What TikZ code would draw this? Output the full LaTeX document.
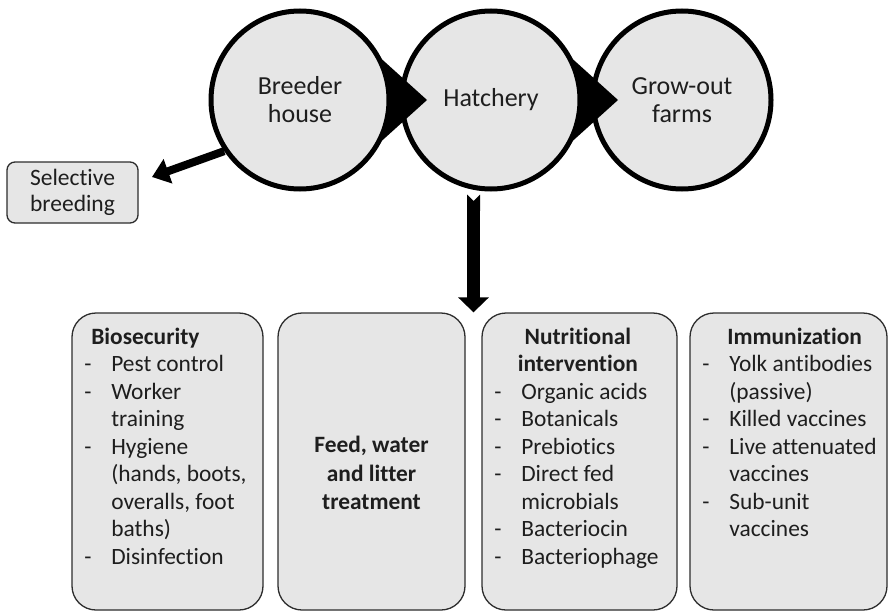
\documentclass[tikz,border=0pt]{standalone}
\usepackage{fontspec}
\setmainfont{Carlito}[Ligatures=CommonOff]
\usepackage{array}
\usepackage{xcolor}
\usetikzlibrary{positioning,arrows.meta,calc}

\begin{document}
\begin{tikzpicture}[x=1pt,y=-1pt,
  stage/.style={circle,draw=black,line width=5pt,fill=fillGray,minimum size=178pt,
    inner sep=0pt,align=center,text=textColor,font=\fontsize{26}{28}\selectfont},
  panel/.style={draw=edgeColor,line width=1.3pt,fill=fillGray,rounded corners=24pt,
    minimum height=297pt,inner sep=0pt},
  smallpanel/.style={draw=edgeColor,line width=1.3pt,fill=fillGray,rounded corners=8pt,
    minimum width=131pt,minimum height=61pt,inner sep=0pt,align=center,text=textColor,
    font=\fontsize{23.5}{26}\selectfont},
  listtext/.style={text=textColor,inner sep=0pt,outer sep=0pt,anchor=base west,
    font=\fontsize{23.4}{27.5}\selectfont},
  headtext/.style={text=textColor,inner sep=0pt,outer sep=0pt,align=center,
    font=\fontsize{23.4}{28.5}\selectfont\bfseries},
  pointer/.style={draw=black,line width=8pt,-{Triangle[length=17pt,width=25pt]}},
  drop/.style={draw=black,line width=13pt,{Triangle Cap[reversed]}-{Triangle[length=15pt,width=30pt]}},
  wedge/.style={fill=black}]
\definecolor{fillGray}{RGB}{230,230,230}
\definecolor{edgeColor}{RGB}{45,45,45}
\definecolor{textColor}{RGB}{30,30,30}
\path[use as bounding box,fill=white] (0,0) rectangle (889,613);

% chain of production stages
\coordinate (breederC) at (300,100);
\coordinate (hatchC) at (491,100);
\coordinate (growC) at (682,100);

\node[stage] (grow) at (growC) {Grow-out\\farms};
\fill[wedge] ([shift={(65,-56)}]hatchC) -- ([shift={(-64,0)}]growC) -- ([shift={(65,56)}]hatchC) -- cycle;
\node[stage] (hatch) at (hatchC) {Hatchery};
\fill[wedge] ([shift={(65,-56)}]breederC) -- ([shift={(-64,0)}]hatchC) -- ([shift={(65,56)}]breederC) -- cycle;
\node[stage] (breeder) at (breederC) {Breeder\\house};

% selective breeding
\node[smallpanel] (sel) at (72.5,192.5) {Selective\\breeding};
\coordinate (selTip) at (152,177);
\draw[pointer] (breeder.214) -- (selTip);

% control measures
\node[panel,minimum width=191pt] (bio) at (167.5,461.5) {};
\node[panel,minimum width=187pt] (feed) at (371.5,461.5) {};
\node[panel,minimum width=195pt] (nutri) at (579.5,461.5) {};
\node[panel,minimum width=197pt] (immu) at (788.5,461.5) {};

\coordinate (gap) at ($(feed.north east)!.5!(nutri.north west)$);
\coordinate (dropTop) at (hatch.south -| gap);
\draw[drop] ([yshift=-3pt]dropTop) -- (gap);

\node[listtext] (bioText) at ([shift={(13,32)}]bio.north west) {%
\begin{tabular}[t]{@{}p{27pt}@{}l@{}}
\multicolumn{2}{@{\hspace{7pt}}l@{}}{\textbf{Biosecurity}}\\
- & Pest control\\
- & Worker\\
  & training\\
- & Hygiene\\
  & (hands, boots,\\
  & overalls, foot\\
  & baths)\\
- & Disinfection
\end{tabular}};

\node[headtext] (feedText) at ($(feed.center)+(0,11.5)$) {Feed, water\\and litter\\treatment};

\node[listtext] (nutriText) at ([shift={(13,32)}]nutri.north west) {%
\begin{tabular}[t]{@{}p{27pt}@{}p{140pt}@{}}
\multicolumn{2}{@{}c@{}}{\textbf{Nutritional}}\\
\multicolumn{2}{@{}c@{}}{\textbf{intervention}}\\
- & Organic acids\\
- & Botanicals\\
- & Prebiotics\\
- & Direct fed\\
  & microbials\\
- & Bacteriocin\\
- & Bacteriophage
\end{tabular}};

\node[listtext] (immuText) at ([shift={(13,32)}]immu.north west) {%
\begin{tabular}[t]{@{}p{27pt}@{}l@{}}
\multicolumn{2}{@{\hspace{25pt}}l@{}}{\textbf{Immunization}}\\
- & Yolk antibodies\\
  & (passive)\\
- & Killed vaccines\\
- & Live attenuated\\
  & vaccines\\
- & Sub-unit\\
  & vaccines
\end{tabular}};
\end{tikzpicture}
\end{document}
